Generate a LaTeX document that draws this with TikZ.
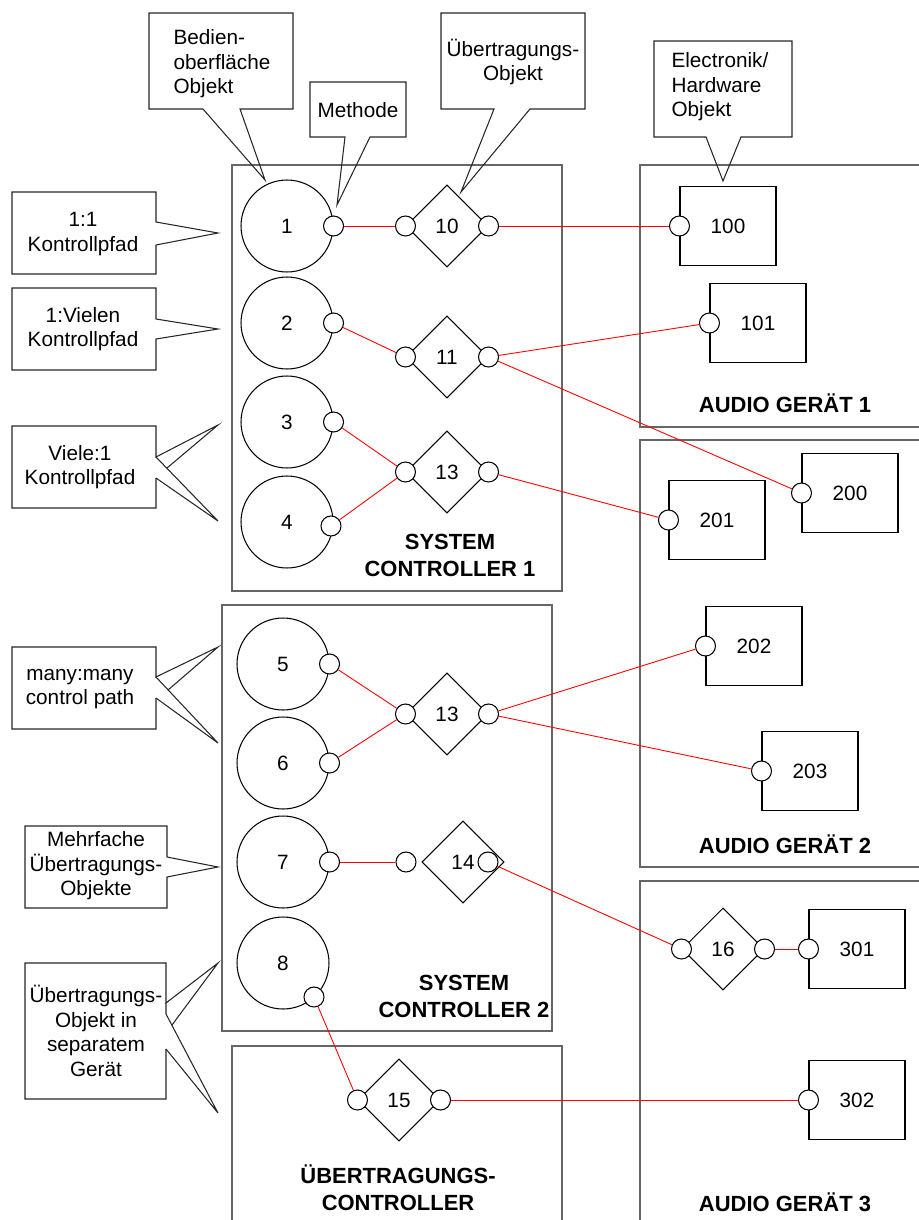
\documentclass[tikz,border=0pt]{standalone}
\usepackage{fontspec}
\setmainfont{Liberation Sans}
\usepackage{tikz}
\usetikzlibrary{shapes.geometric}

\tikzset{
  txt/.style={font=\fontsize{11.8}{14}\selectfont, align=center, inner sep=0pt},
  devname/.style={font=\fontsize{12.5}{15.4}\selectfont\bfseries, align=center, inner sep=0pt},
  uiobj/.style={circle, draw, minimum size=1.84cm, inner sep=0pt, txt},
  port/.style={circle, draw, fill=white, minimum size=0.4cm, inner sep=0pt},
  xfer/.style={diamond, draw, minimum width=1.64cm, minimum height=1.64cm, inner sep=0pt, txt},
  hwobj/.style={rectangle, draw, minimum width=1.92cm, minimum height=1.58cm, inner sep=0pt, txt},
  device/.style={draw=black!60, line width=0.75pt},
  bubble/.style={draw=black!85, line width=0.6pt},
  link/.style={red, line width=0.5pt},
}

\begin{document}
\begin{tikzpicture}[x=0.02cm, y=-0.02cm, line width=0.6pt]
    \useasboundingbox (0,0) rectangle (919,1220);

    % geraete
    \draw[device] (232,165) rectangle (562,591);
    \draw[device] (222,605) rectangle (552,1031);
    \draw[device] (232,1220) -- (232,1046) -- (562,1046) -- (562,1220);
    \draw[device] (919,165) -- (640,165) -- (640,427) -- (919,427);
    \draw[device] (919,440) -- (640,440) -- (640,867) -- (919,867);
    \draw[device] (919,881) -- (640,881) -- (640,1220);

    \node[devname] (sc1name) at (450,555) {SYSTEM\\CONTROLLER 1};
    \node[devname] (sc2name) at (464,996) {SYSTEM\\CONTROLLER 2};
    \node[devname] (ucname) at (398,1188) {ÜBERTRAGUNGS-\\CONTROLLER};
    \node[devname] (a1name) at (785,403) {AUDIO GERÄT 1};
    \node[devname] (a2name) at (785,844) {AUDIO GERÄT 2};
    \node[devname] (a3name) at (785,1202) {AUDIO GERÄT 3};

    % bedienoberflaechen
    \node[uiobj] (u1) at (287,226) {1};
    \node[uiobj] (u2) at (287,323) {2};
    \node[uiobj] (u3) at (287,422) {3};
    \node[uiobj] (u4) at (287,522) {4};
    \node[uiobj] (u5) at (283,664) {5};
    \node[uiobj] (u6) at (283,763) {6};
    \node[uiobj] (u7) at (283,862) {7};
    \node[uiobj] (u8) at (283,963) {8};

    % uebertragungsobjekte
    \node[xfer] (d10) at (447,226) {10};
    \node[xfer] (d11) at (447,357) {11};
    \node[xfer] (d13a) at (447,472) {13};
    \node[xfer] (d13b) at (447,714) {13};
    \node[xfer] (d14) at (463,862) {14};
    \node[xfer] (d15) at (399,1100) {15};
    \node[xfer] (d16) at (723,949) {16};

    % hardware
    \node[hwobj] (h100) at (728,226) {100};
    \node[hwobj] (h101) at (758,323) {101};
    \node[hwobj] (h200) at (850,493) {200};
    \node[hwobj] (h201) at (717,520) {201};
    \node[hwobj] (h202) at (754,646) {202};
    \node[hwobj] (h203) at (810,771) {203};
    \node[hwobj] (h301) at (857,949) {301};
    \node[hwobj] (h302) at (857,1100) {302};

    % methoden
    \node[port] (pu1) at (u1.east) {};
    \node[port] (pu2) at (u2.east) {};
    \node[port] (pu3) at (u3.east) {};
    \node[port] (pu4) at (331,526) {};
    \node[port] (pu5) at (u5.east) {};
    \node[port] (pu6) at (u6.east) {};
    \node[port] (pu7) at (u7.east) {};
    \node[port] (pu8) at (314,997) {};
    \node[port] (pl10) at (d10.west) {};
    \node[port] (pr10) at (d10.east) {};
    \node[port] (pl11) at (d11.west) {};
    \node[port] (pr11) at (d11.east) {};
    \node[port] (pl13a) at (d13a.west) {};
    \node[port] (pr13a) at (d13a.east) {};
    \node[port] (pl13b) at (d13b.west) {};
    \node[port] (pr13b) at (d13b.east) {};
    \node[port] (pl14) at (406,862) {};
    \node[port] (pr14) at (488,862) {};
    \node[port] (pl15) at (d15.west) {};
    \node[port] (pr15) at (d15.east) {};
    \node[port] (pl16) at (d16.west) {};
    \node[port] (pr16) at (d16.east) {};
    \node[port] (ph100) at (h100.west) {};
    \node[port] (ph101) at (h101.west) {};
    \node[port] (ph200) at (h200.west) {};
    \node[port] (ph201) at (h201.west) {};
    \node[port] (ph202) at (h202.west) {};
    \node[port] (ph203) at (h203.west) {};
    \node[port] (ph301) at (h301.west) {};
    \node[port] (ph302) at (h302.west) {};

    % kontrollpfade
    \draw[link] (pu1) -- (pl10);
    \draw[link] (pr10) -- (ph100);
    \draw[link] (pu2) -- (pl11);
    \draw[link] (pr11) -- (ph101);
    \draw[link] (pr11) -- (ph200);
    \draw[link] (pu3) -- (pl13a);
    \draw[link] (pu4) -- (pl13a);
    \draw[link] (pr13a) -- (ph201);
    \draw[link] (pu5) -- (pl13b);
    \draw[link] (pu6) -- (pl13b);
    \draw[link] (pr13b) -- (ph202);
    \draw[link] (pr13b) -- (ph203);
    \draw[link] (pu7) -- (pl14);
    \draw[link] (pr14) -- (pl16);
    \draw[link] (pr16) -- (ph301);
    \draw[link] (pu8) -- (pl15);
    \draw[link] (pr15) -- (ph302);

    % sprechblasen oben
    \draw[bubble] (149,13) -- (293,13) -- (293,109) -- (240,109) -- (265,180)
        -- (203,109) -- (149,109) -- cycle;
    \node[txt, align=left, anchor=west] (cbedien) at (173,64) {Bedien-\\oberfläche\\Objekt};
    \draw[bubble] (310,82) -- (406,82) -- (406,137) -- (370,137) -- (337,205)
        -- (345,137) -- (310,137) -- cycle;
    \node[txt] (cmethode) at (358,110) {Methode};
    \draw[bubble] (441,13) -- (585,13) -- (585,109) -- (530,109) -- (461,192)
        -- (494,109) -- (441,109) -- cycle;
    \node[txt] (cuebertr) at (513,62) {Übertragungs-\\Objekt};
    \draw[bubble] (654,41) -- (792,41) -- (792,137) -- (741,137) -- (723,181)
        -- (706,137) -- (654,137) -- cycle;
    \node[txt, align=left, anchor=west] (chw) at (671,87) {Electronik/\\Hardware\\Objekt};

    % sprechblasen links
    \draw[bubble] (12,192) -- (156,192) -- (156,222) -- (218,233) -- (156,245)
        -- (156,274) -- (12,274) -- cycle;
    \node[txt] (ceins) at (83,234) {1:1\\Kontrollpfad};
    \draw[bubble] (12,288) -- (156,288) -- (156,319) -- (218,329) -- (156,339)
        -- (156,370) -- (12,370) -- cycle;
    \node[txt] (cvielen) at (83,329) {1:Vielen\\Kontrollpfad};
    \draw[bubble] (156,478) -- (156,508) -- (12,508) -- (12,426) -- (156,426)
        -- (156,457) -- (218,425) -- (167,468);
    \draw[bubble] (156,457) -- (218,521) -- (156,478);
    \node[txt] (cviele) at (80,467) {Viele:1\\Kontrollpfad};
    \draw[bubble] (156,698) -- (156,729) -- (12,729) -- (12,647) -- (156,647)
        -- (156,677) -- (218,647) -- (168,690);
    \draw[bubble] (156,677) -- (218,743) -- (156,698);
    \node[txt] (cmany) at (80,689) {many:many\\control path};
    \draw[bubble] (25,826) -- (167,826) -- (167,857) -- (218,867) -- (167,877)
        -- (167,908) -- (25,908) -- cycle;
    \node[txt] (cmehr) at (96,866) {Mehrfache\\Übertragungs-\\Objekte};
    \draw[bubble] (166,1049) -- (166,1099) -- (25,1099) -- (25,963) -- (166,963)
        -- (166,1003) -- (218,963) -- (172,1025);
    \draw[bubble] (166,1003) -- (166,1014) -- (218,1113) -- (166,1049);
    \node[txt] (csep) at (96,1031) {Übertragungs-\\Objekt in\\separatem\\Gerät};
\end{tikzpicture}
\end{document}
